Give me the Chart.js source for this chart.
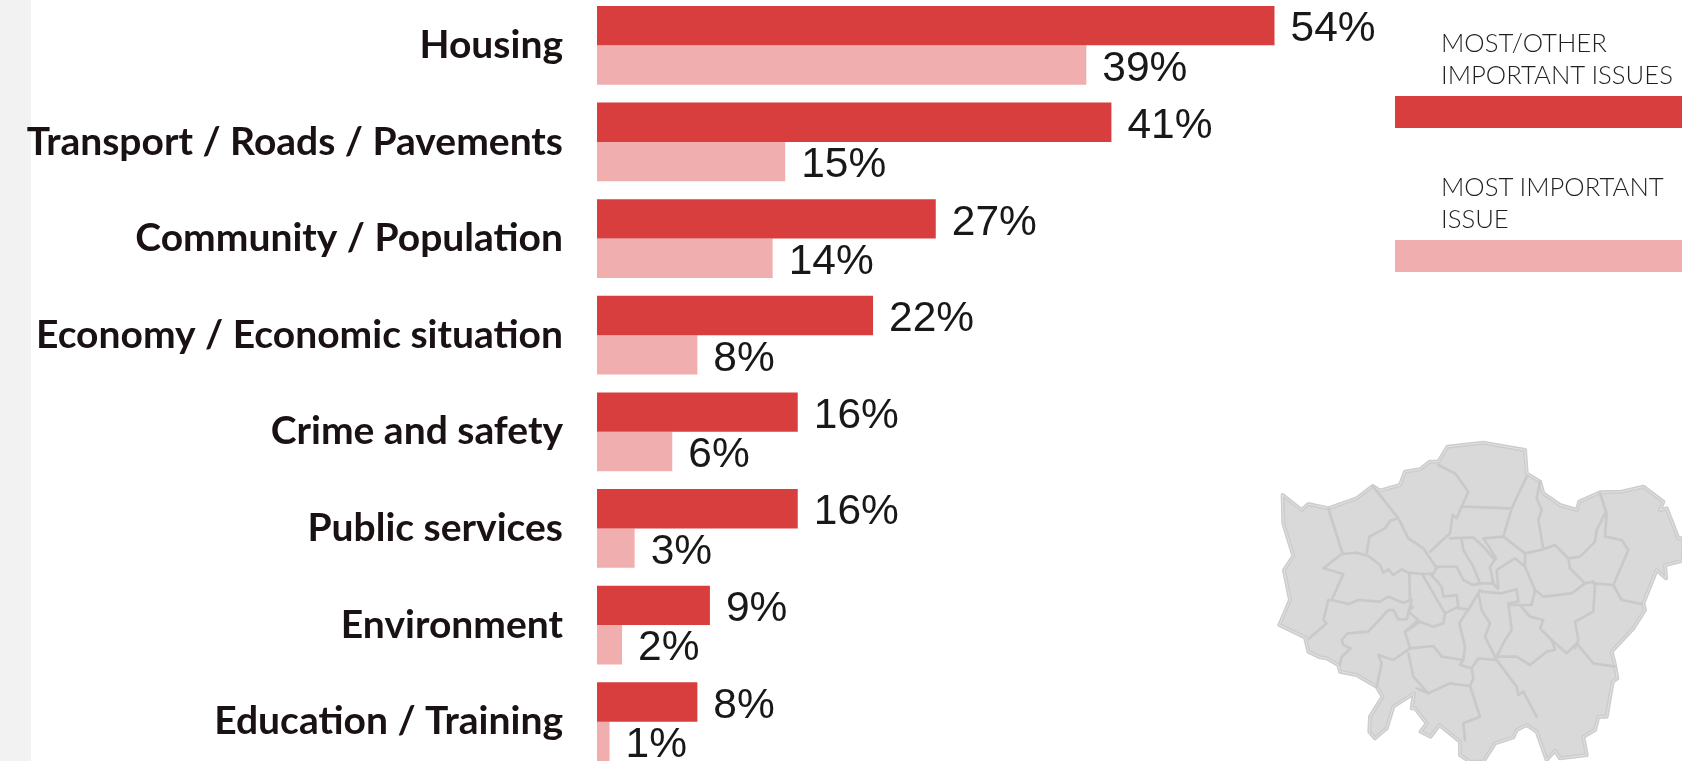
<!DOCTYPE html>
<html>
<head>
<meta charset="utf-8">
<script src="https://cdn.jsdelivr.net/npm/chart.js@4"></script>
<style>
  html, body { margin: 0; padding: 0; background: #fff; width: 1682px; height: 761px; overflow: hidden; }
  #strip { position: absolute; left: 0; top: 0; width: 31px; height: 761px; background: #f2f2f2; }
  #wrap { position: absolute; left: 0; top: -3px; width: 1682px; height: 773px; }
  #map { position: absolute; left: 1260px; top: 430px; width: 422px; height: 331px; }
  .legend-text { position: absolute; left: 1441px; font: 300 25.7px/32px Lato, sans-serif; color: #231f20; white-space: nowrap; }
  .legend-swatch { position: absolute; left: 1395px; width: 287px; height: 32px; }
</style>
</head>
<body>
<div id="strip"></div>
<div id="wrap"><canvas id="issuesChart" width="1682" height="773"></canvas></div>
<div id="legend"></div>
<svg id="map" viewBox="0 0 1266 993" fill="none" stroke-linejoin="round" stroke-linecap="round"></svg>
<script>
const categories = ['Housing', 'Transport / Roads / Pavements', 'Community / Population', 'Economy / Economic situation', 'Crime and safety', 'Public services', 'Environment', 'Education / Training'];
const mostOtherValues = [54, 41, 27, 22, 16, 16, 9, 8];
const mostValues = [39, 15, 14, 8, 6, 3, 2, 1];
const seriesNames = ['MOST/OTHER IMPORTANT ISSUES', 'MOST IMPORTANT ISSUE'];
const seriesColors = ['#d93e3e', '#f1aeae'];

// legend sits over to the right, text above a wide swatch
const legendLines = [['MOST/OTHER', 'IMPORTANT ISSUES'], ['MOST IMPORTANT', 'ISSUE']];
const legendEl = document.getElementById('legend');
legendLines.forEach((lines, i) => {
  const top = i === 0 ? 96 : 240;
  const text = document.createElement('div');
  text.className = 'legend-text';
  text.style.top = (top - 70) + 'px';
  text.innerHTML = lines.join('<br>');
  legendEl.appendChild(text);
  const swatch = document.createElement('div');
  swatch.className = 'legend-swatch';
  swatch.style.top = top + 'px';
  swatch.style.background = seriesColors[i];
  legendEl.appendChild(swatch);
});

// London boroughs, decoration only
const mapOutline = 'M68,195 125,240 145,222 205,235 290,205 338,168 360,182 420,165 435,125 480,118 510,95 535,95 562,50 670,38 795,60 800,130 840,155 850,190 900,225 950,240 958,215 1020,187 1085,185 1150,170 1210,215 1200,240 1220,235 1255,325 1270,325 1270,392 1215,405 1218,445 1190,420 1150,520 1155,540 1120,595 1055,665 1065,705 1072,745 1058,755 1040,860 1015,860 1005,900 970,920 980,975 900,985 885,962 860,990 830,905 800,885 770,900 760,922 705,940 670,995 630,995 600,975 600,935 538,885 512,920 482,905 500,880 465,835 455,835 462,790 400,830 380,895 345,925 328,905 330,860 368,800 350,770 290,735 240,725 235,705 200,685 180,682 145,665 135,622 58,585 90,510 72,420 100,378 70,280Z';
const mapBorders = [
  '205,235 248,372', '338,168 415,265 445,325 490,355 530,415', '320,370 328,320 375,295 390,272 415,265',
  '190,415 245,372 290,368 325,378 360,405 370,428 385,418 400,435 425,418 445,428 490,432 520,432 530,412',
  '190,415 250,432 215,510 265,522 295,510 360,515 385,500 430,518 450,510 448,430',
  '215,510 205,510 190,570 200,580 148,625', '240,705 245,680 272,655 250,645 245,630 262,610 325,605 385,540 400,540 415,568 440,568 455,510',
  '350,770 365,700 355,675 400,690 450,655 435,605 475,570 445,545 458,530', '445,600 480,575 520,590 550,580 555,550 488,435',
  '510,430 545,470 550,500 590,495 595,530 555,550', '595,535 625,538 598,580 615,650 610,690 600,705 635,715 655,685 710,690',
  '450,655 520,648 545,680 610,690', '445,670 460,740 505,790 570,760 630,768 640,745 635,715', '630,768 660,860 610,880 615,930', '470,775 505,790',
  '660,480 625,540', '655,490 665,540 690,580 675,620 710,690 770,770 775,795 790,785 830,860',
  '665,485 725,490 770,478 775,515 745,520 755,600 735,630 710,680 770,680 810,705 860,665 885,660 875,630 920,670 950,640 1000,700 1065,710',
  '750,525 780,525 810,560 850,570 840,595 875,630', '945,655 955,630 945,575 1000,545 1005,465', '1000,460 1060,465 1085,510 1145,522',
  '1060,465 1105,360 1085,330 1035,320 1040,250 1020,190', '1035,250 1010,300 1005,335 960,380 925,385 885,345 850,358 795,370 730,320 670,325 690,355 708,385 690,410 700,460 712,475',
  '850,358 835,270 845,240 830,205 840,155', '800,140 755,235 730,320', '605,230 750,235', '605,230 625,185 585,130 535,105',
  '605,230 590,265 578,255 570,310 510,365', '570,325 640,322 670,350 700,385', '605,330 610,360 640,410 660,460 700,460',
  '530,410 590,410 610,450 640,465 660,460', '795,370 795,410 825,480 850,500 935,490 975,460 1000,455', '925,385 930,415 975,460',
  '795,410 765,385 710,420 715,475', '825,480 815,525 780,525'
];
const mapSvg = document.getElementById('map');
let mapHtml = '<path d="' + mapOutline + '" fill="#d9d9d9" stroke="#cdcdcd" stroke-width="12"/>';
mapHtml += '<path d="' + mapOutline + '" stroke="#e2e2e2" stroke-width="3"/>';
mapBorders.forEach(p => { mapHtml += '<polyline points="' + p + '" stroke="#c9c9c9" stroke-width="8"/>'; });
mapSvg.innerHTML = mapHtml;

// value labels to the right of each bar
const valueLabels = {
  id: 'valueLabels',
  afterDatasetsDraw(chart) {
    const ctx = chart.ctx;
    ctx.save();
    ctx.letterSpacing = '0px';
    ctx.font = '42.5px "Liberation Sans", Arial, sans-serif';
    ctx.fillStyle = '#1a1718';
    ctx.textAlign = 'left';
    ctx.textBaseline = 'middle';
    chart.data.datasets.forEach((ds, i) => {
      chart.getDatasetMeta(i).data.forEach((bar, j) => {
        ctx.fillText(ds.data[j] + '%', bar.x + 16, bar.y + 4);
      });
    });
    ctx.restore();
  }
};

const ctx = document.getElementById('issuesChart').getContext('2d');
ctx.letterSpacing = '2px'; // Lato runs narrower than the original font
new Chart(ctx, {
  type: 'bar',
  data: {
    labels: categories,
    datasets: [
      { label: seriesNames[0], data: mostOtherValues, backgroundColor: seriesColors[0] },
      { label: seriesNames[1], data: mostValues, backgroundColor: seriesColors[1] },
    ],
  },
  options: {
    indexAxis: 'y',
    responsive: false,
    animation: false,
    categoryPercentage: 0.814,
    barPercentage: 1,
    layout: { padding: { right: 6 } },
    plugins: { legend: { display: false }, tooltip: { enabled: false } },
    scales: {
      x: { display: false, min: 0, max: 86 },
      y: {
        afterFit(scale) {
          scale.width = 597;
          scale.paddingTop = 0;
          scale.paddingBottom = 0;
        },
        grid: { display: false },
        border: { display: false },
        ticks: { color: '#1a1113', padding: 26, autoSkip: false, font: { family: 'Lato', weight: '700', size: 39 } },
      },
    },
  },
  plugins: [valueLabels],
});
</script>
</body>
</html>
